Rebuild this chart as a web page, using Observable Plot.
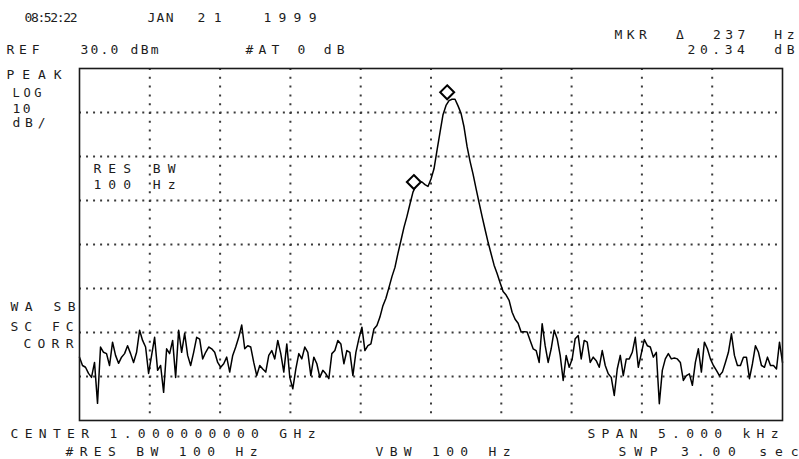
<!DOCTYPE html>
<html><head><meta charset="utf-8">
<script src="https://cdn.jsdelivr.net/npm/d3@7"></script>
<script src="https://cdn.jsdelivr.net/npm/@observablehq/plot@0.6"></script>
<style>
html,body{margin:0;padding:0;background:#fff;}
#chart svg text{white-space:pre;}
</style></head><body><div id="chart"></div>
<script>
// ---- data ----
const spanHz = 5000;            // SPAN 5.000 kHz around CENTER 1.000000000 GHz
const refLevel = 30;            // REF 30.0 dBm
const dbPerDiv = 10;            // LOG 10 dB/
const yGrid = [20, 10, 0, -10, -20, -30, -40];
const xGrid = [-2000, -1500, -1000, -500, 0, 500, 1000, 1500, 2000];

// trace amplitude (dBm), evenly spaced sweep points across the span
const traceDbm = [
 -35.6,-37.5,-37.9,-39.3,-40.2,-36.8,-46.1,-33.3,-34.5,-34.8,
 -37.5,-32.2,-35.2,-37.0,-35.6,-34.8,-33.0,-34.8,-36.8,-34.5,
 -29.5,-31.8,-33.3,-39.3,-35.2,-31.1,-38.6,-37.5,-43.6,-33.7,
 -34.8,-31.8,-40.2,-29.5,-34.5,-30.2,-35.2,-37.5,-34.5,-31.1,
 -31.5,
 -36.0,-34.5,-33.3,-33.7,-34.5,-36.8,-37.9,-37.1,-35.6,-39.0,
 -35.2,-33.3,-31.1,-28.3,-33.7,-33.0,-33.3,-36.8,-39.8,-37.5,
 -38.3,-39.0,-35.2,-34.1,-36.0,-31.8,-34.8,-39.0,-32.6,-40.2,
 -42.8,-38.3,-34.8,-36.0,-33.3,-34.5,-39.8,-35.6,-37.1,
 -40.2,-38.6,-39.4,-40.5,-34.8,-34.1,-31.8,-32.6,-37.1,-34.1,
 -34.5,-39.8,-34.5,-31.4,-28.8,-34.1,-33.0,-32.6,-29.2,-28.4,
 -26.5,-23.9,-22.2,-19.8,-17.3,-15.2,-12.0,-9.1,-6.1,-3.6,
 -0.8,1.9,3.4,4.2,4.2,3.6,3.2,4.9,7.2,
 11.4,15.5,19.5,21.6,22.7,23.0,23.0,21.5,19.8,16.7,
 12.3,8.9,6.0,2.7,-0.5,-3.6,-6.6,-9.5,-12.1,-14.7,
 -16.6,-18.7,-20.7,-21.5,-22.7,-25.4,-27.0,-27.9,-29.9,-29.8,
 -29.9,-31.8,-33.7,-34.1,-36.8,-28.0,-33.0,-36.8,-33.7,-29.5,
 -31.4,-35.2,-40.9,-35.2,-37.9,-36.0,-31.4,-30.7,-36.0,-31.8,
 -32.2,-36.8,-35.6,-36.4,-37.9,-34.1,-37.5,-39.4,-40.2,-44.3,
 -38.3,-35.2,-39.8,-36.0,-36.0,-34.5,-31.1,-37.9,-34.8,-31.6,
 -33.0,-33.3,-35.6,-34.5,-46.2,-38.6,-36.0,-34.8,-36.0,
 -35.8,-36.0,-36.8,-40.9,-39.8,-39.4,-42.0,-36.8,-33.7,-39.0,
 -32.2,-33.7,-36.0,-37.5,-38.6,-39.8,-39.0,-36.8,-34.5,-30.3,
 -35.2,-37.5,-37.5,-35.6,-35.6,-40.5,-37.1,-33.0,-34.5,-37.5,
 -37.9,-35.6,-37.5,-37.5,-38.3,-32.2,-36.8
];

// markers: offset from center (Hz) and level (dBm)
const markerHz = [115, -122];
const markerDbm = [23.0, 2.6];

// screen annotations
const dateTime = "08:52:22";
const dateMonth = "JAN";
const dateDay = "21";
const dateYear = "1999";
const mkrText = "MKR  \u0394  237  Hz";
const mkrValue = "20.34  dB";
const refText = "REF";
const refValue = "30.0 dBm";
const attenText = "#AT 0 dB";
const detText = "PEAK";
const scaleTexts = ["LOG", "10", "dB/"];
const rbwTexts = ["RES BW", "100 Hz"];
const corrTexts = ["WA SB", "SC FC", "CORR"];
const centerText = "CENTER 1.000000000 GHz";
const rbwBottom = "#RES BW 100 Hz";
const vbwText = "VBW 100 Hz";
const spanText = "SPAN 5.000 kHz";
const swpText = "SWP 3.00 sec";

// ---- build ----
const W = 799, H = 459, ML = 79, MR = 17, MT = 68, MB = 39;
const n = traceDbm.length;
const trace = traceDbm.map((v, i) => ({f: -spanHz / 2 + i * spanHz / (n - 1), v}));
const markers = markerHz.map((f, i) => ({f, v: markerDbm[i]}));

// layout: [text, left x, middle y, width, fontSize]
const layout = [
  [dateTime, 24, 17, 53, 13],
  [dateMonth, 147, 17, 26, 13],
  [dateDay, 197, 17, 24, 13],
  [dateYear, 263, 17, 53, 13],
  [mkrText, 614, 34, 180, 13],
  [refText, 6, 49, 33, 13],
  [refValue, 80, 49, 78, 13],
  [attenText, 245, 49, 99, 13],
  [mkrValue, 687, 49, 107, 13],
  [detText, 6, 74, 55, 13],
  [scaleTexts[0], 12, 93, 29, 12],
  [scaleTexts[1], 12, 108, 18, 13],
  [scaleTexts[2], 12, 122, 33, 13],
  [rbwTexts[0], 93, 168, 82, 13],
  [rbwTexts[1], 93, 184, 82, 13],
  [corrTexts[0], 10, 306, 65, 13],
  [corrTexts[1], 10, 326, 63, 13],
  [corrTexts[2], 23, 343, 50, 13],
  [centerText, 10, 433, 305, 13],
  [rbwBottom, 65, 451, 192, 13],
  [vbwText, 375, 451, 135, 13],
  [spanText, 587, 433, 191, 13],
  [swpText, 618, 451, 180, 13]
];

const labelMarks = layout.map(([t, x, y, w, fs]) =>
  Plot.text([t], {
    text: d => d, frameAnchor: "top-left", dx: x - ML, dy: y - MT,
    textAnchor: "start", lineAnchor: "middle", fontSize: fs,
    fontFamily: "DejaVu Sans Mono", fill: "#1c1c1c"
  }));

const chart = Plot.plot({
  width: W, height: H,
  marginLeft: ML, marginRight: MR, marginTop: MT, marginBottom: MB,
  style: {background: "#fff", fontFamily: "DejaVu Sans Mono", overflow: "visible"},
  x: {domain: [-spanHz / 2, spanHz / 2], axis: null},
  y: {domain: [refLevel - 8 * dbPerDiv, refLevel], axis: null},
  marks: [
    Plot.ruleY(yGrid, {stroke: "#3a3a3a", strokeWidth: 2, strokeDasharray: "2,5.03"}),
    Plot.ruleX(xGrid, {stroke: "#3a3a3a", strokeWidth: 2, strokeDasharray: "2,6.8"}),
    Plot.line(trace, {x: "f", y: "v", stroke: "#000", strokeWidth: 1.5}),
    Plot.dot(markers, {x: "f", y: "v", symbol: "diamond2", r: 6.3, stroke: "#000", strokeWidth: 2, fill: "#fff", dy: -7}),
    Plot.frame({stroke: "#1a1a1a", strokeWidth: 1.6}),
    ...labelMarks
  ]
});

const widths = new Map(layout.map(([t, , , w]) => [t, w]));
d3.select(chart).selectAll("text").each(function () {
  const w = widths.get(this.textContent);
  if (w) { this.setAttribute("textLength", w); this.setAttribute("lengthAdjust", "spacing"); }
});
document.getElementById("chart").appendChild(chart);
</script></body></html>
